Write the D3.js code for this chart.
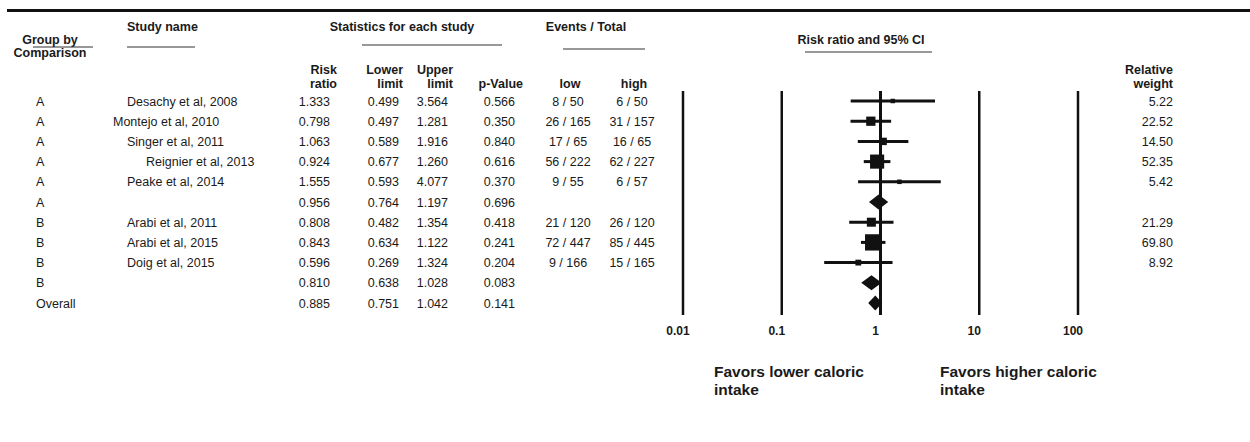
<!DOCTYPE html>
<html>
<head>
<meta charset="utf-8">
<script src="https://cdn.jsdelivr.net/npm/d3@7"></script>
<style>
  body { margin: 0; background: #fff; }
  svg text { font-family: "Liberation Sans", Arial, Helvetica, sans-serif; fill: #1a1a1a; }
  .hd { font-weight: bold; font-size: 12.5px; }
  .cell { font-size: 12.5px; }
  .tick { font-weight: bold; font-size: 12px; }
  .favors { font-weight: bold; font-size: 15.5px; }
</style>
</head>
<body>
<svg id="chart" width="1250" height="442"></svg>
<script>
// Study rows, top to bottom
var groups = ['A', 'A', 'A', 'A', 'A', 'A', 'B', 'B', 'B', 'B', 'Overall']
var studies = ['Desachy et al, 2008', 'Montejo et al, 2010', 'Singer et al, 2011', 'Reignier et al, 2013',
  'Peake et al, 2014', '', 'Arabi et al, 2011', 'Arabi et al, 2015', 'Doig et al, 2015', '', '']
var riskRatio = [1.333, 0.798, 1.063, 0.924, 1.555, 0.956, 0.808, 0.843, 0.596, 0.810, 0.885]
var lowerLimit = [0.499, 0.497, 0.589, 0.677, 0.593, 0.764, 0.482, 0.634, 0.269, 0.638, 0.751]
var upperLimit = [3.564, 1.281, 1.916, 1.260, 4.077, 1.197, 1.354, 1.122, 1.324, 1.028, 1.042]
var pValue = [0.566, 0.350, 0.840, 0.616, 0.370, 0.696, 0.418, 0.241, 0.204, 0.083, 0.141]
var eventsLow = ['8 / 50', '26 / 165', '17 / 65', '56 / 222', '9 / 55', '', '21 / 120', '72 / 447', '9 / 166', '', '']
var eventsHigh = ['6 / 50', '31 / 157', '16 / 65', '62 / 227', '6 / 57', '', '26 / 120', '85 / 445', '15 / 165', '', '']
var relWeight = [5.22, 22.52, 14.50, 52.35, 5.42, null, 21.29, 69.80, 8.92, null, null]
var isSummary = [false, false, false, false, false, true, false, false, false, true, true]
var axisTicks = [0.01, 0.1, 1, 10, 100]
var favorsLabels = [['Favors lower caloric', 'intake'], ['Favors higher caloric', 'intake']]

var svg = d3.select('#chart')
var fmt = d3.format('.3f')

// layout
var x = d3.scaleLog().domain([0.01, 100]).range([683, 1078])
var y = d3.scalePoint().domain(d3.range(groups.length)).range([101, 303])
var plotTop = 91
var plotBottom = 315
// study name indents as printed in the source table
var nameX = [127, 113, 127, 146, 127, 127, 127, 127, 127, 127, 127]

// top rule
svg.append('line').attr('x1', 7).attr('x2', 1250).attr('y1', 10.5).attr('y2', 10.5)
  .attr('stroke', '#111').attr('stroke-width', 3)

// headers
function hd (txt, hx, hy, anchor) {
  svg.append('text').attr('class', 'hd').attr('x', hx).attr('y', hy)
    .attr('text-anchor', anchor || 'start').text(txt)
}
function rule (x1, x2, ry) {
  svg.append('line').attr('x1', x1).attr('x2', x2).attr('y1', ry).attr('y2', ry)
    .attr('stroke', '#333').attr('stroke-width', 1)
}
hd('Group by', 50, 44, 'middle')
hd('Comparison', 50, 57, 'middle')
rule(33, 93, 47)
hd('Study name', 127, 31)
rule(127, 195, 47)
hd('Statistics for each study', 402, 31, 'middle')
rule(362, 502, 45)
hd('Risk', 337, 74, 'end')
hd('ratio', 337, 88, 'end')
hd('Lower', 403, 74, 'end')
hd('limit', 403, 88, 'end')
hd('Upper', 453, 74, 'end')
hd('limit', 453, 88, 'end')
hd('p-Value', 523, 88, 'end')
hd('Events / Total', 586, 31, 'middle')
rule(563, 645, 49)
hd('low', 570, 88, 'middle')
hd('high', 634, 88, 'middle')
hd('Risk ratio and 95% CI', 861, 44, 'middle')
rule(805, 932, 52)
hd('Relative', 1173, 74, 'end')
hd('weight', 1173, 88, 'end')

// table cells
var rows = svg.append('g').selectAll('g').data(d3.range(groups.length)).join('g')
  .attr('transform', function (i) { return 'translate(0,' + (y(i) + 4.5) + ')' })
function col (accessor, cx, anchor) {
  rows.append('text').attr('class', 'cell').attr('x', typeof cx === 'function' ? cx : function () { return cx })
    .attr('text-anchor', anchor).text(accessor)
}
col(function (i) { return groups[i] }, 36, 'start')
col(function (i) { return studies[i] }, function (i) { return nameX[i] }, 'start')
col(function (i) { return fmt(riskRatio[i]) }, 330, 'end')
col(function (i) { return fmt(lowerLimit[i]) }, 399, 'end')
col(function (i) { return fmt(upperLimit[i]) }, 448, 'end')
col(function (i) { return fmt(pValue[i]) }, 515, 'end')
col(function (i) { return eventsLow[i] }, 568, 'middle')
col(function (i) { return eventsHigh[i] }, 632, 'middle')
col(function (i) { return relWeight[i] == null ? '' : relWeight[i].toFixed(2) }, 1173, 'end')

// reference lines
svg.append('g').selectAll('line').data(axisTicks).join('line')
  .attr('x1', function (d) { return x(d) }).attr('x2', function (d) { return x(d) })
  .attr('y1', plotTop).attr('y2', plotBottom)
  .attr('stroke', '#111').attr('stroke-width', function (d) { return d === 1 ? 3 : 2.5 })

// tick labels
svg.append('g').selectAll('text').data(axisTicks).join('text')
  .attr('class', 'tick').attr('x', function (d) { return x(d) - 5 }).attr('y', 335)
  .attr('text-anchor', 'middle').text(function (d) { return d })

// study CIs + squares
var studyIdx = d3.range(groups.length).filter(function (i) { return !isSummary[i] })
var marks = svg.append('g')
marks.selectAll('line').data(studyIdx).join('line')
  .attr('x1', function (i) { return x(lowerLimit[i]) }).attr('x2', function (i) { return x(upperLimit[i]) })
  .attr('y1', function (i) { return y(i) }).attr('y2', function (i) { return y(i) })
  .attr('stroke', '#111').attr('stroke-width', 3)
marks.selectAll('rect').data(studyIdx).join('rect')
  .attr('x', function (i) { return x(riskRatio[i]) - 0.975 * Math.sqrt(relWeight[i]) })
  .attr('y', function (i) { return y(i) - 0.975 * Math.sqrt(relWeight[i]) })
  .attr('width', function (i) { return 1.95 * Math.sqrt(relWeight[i]) })
  .attr('height', function (i) { return 1.95 * Math.sqrt(relWeight[i]) })
  .attr('fill', '#111')

// summary diamonds
var sumIdx = d3.range(groups.length).filter(function (i) { return isSummary[i] })
marks.selectAll('path').data(sumIdx).join('path')
  .attr('d', function (i) {
    var cy = y(i)
    return 'M' + x(lowerLimit[i]) + ',' + cy + 'L' + x(riskRatio[i]) + ',' + (cy - 7.5) +
      'L' + x(upperLimit[i]) + ',' + cy + 'L' + x(riskRatio[i]) + ',' + (cy + 7.5) + 'Z'
  })
  .attr('fill', '#111')

// favors labels
favorsLabels.forEach(function (lines, k) {
  var t = svg.append('text').attr('class', 'favors').attr('x', k === 0 ? 714 : 940).attr('y', 377)
  lines.forEach(function (s, j) {
    t.append('tspan').attr('x', k === 0 ? 714 : 940).attr('dy', j === 0 ? 0 : 18).text(s)
  })
})
</script>
</body>
</html>
